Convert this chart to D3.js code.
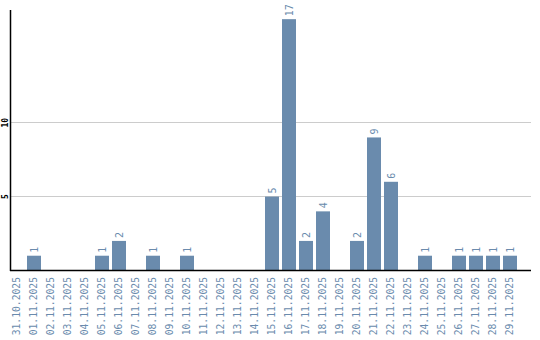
<!DOCTYPE html>
<html><head><meta charset="utf-8">
<script src="https://cdn.jsdelivr.net/npm/d3@7"></script>
<style>body{margin:0;background:#fff}</style>
</head><body>
<script>
const dates = ["31.10.2025","01.11.2025","02.11.2025","03.11.2025","04.11.2025","05.11.2025","06.11.2025","07.11.2025","08.11.2025","09.11.2025","10.11.2025","11.11.2025","12.11.2025","13.11.2025","14.11.2025","15.11.2025","16.11.2025","17.11.2025","18.11.2025","19.11.2025","20.11.2025","21.11.2025","22.11.2025","23.11.2025","24.11.2025","25.11.2025","26.11.2025","27.11.2025","28.11.2025","29.11.2025"];
const counts = [0,1,0,0,0,1,2,0,1,0,1,0,0,0,0,5,17,2,4,0,2,9,6,0,1,0,1,1,1,1];
const yTicks = [5,10];

(function(){
const W=540,H=340;
const svg=d3.select("body").append("svg").attr("width",W).attr("height",H);
const mLeft=10.5, mRight=531, base=270.5, mTop=10;
const x=d3.scaleBand().domain(dates).range([10,517]).paddingInner(3/17).paddingOuter(0);
const y=d3.scaleLinear().domain([0,17.62]).range([base,mTop]);
const col="#6a8bad";
const rows=dates.map((d,i)=>({d,v:counts[i]})).filter(o=>o.v>0);

svg.append("g").selectAll("line").data(yTicks).join("line")
  .attr("x1",mLeft).attr("x2",mRight).attr("y1",d=>Math.round(y(d))-0.5).attr("y2",d=>Math.round(y(d))-0.5)
  .attr("stroke","#cccccc").attr("stroke-width",1);
svg.append("g").selectAll("text").data(yTicks).join("text")
  .attr("transform",d=>`translate(5.5,${y(d)}) rotate(-90)`)
  .attr("text-anchor","middle").attr("dy","0.35em")
  .style("font-family","'DejaVu Sans Mono',monospace").style("font-size","8px").style("font-weight","bold")
  .attr("fill","#000").text(d=>d);

svg.append("g").selectAll("rect").data(rows).join("rect")
  .attr("x",o=>x(o.d)).attr("width",x.bandwidth()).attr("y",o=>y(o.v)).attr("height",o=>y(0)-y(o.v))
  .attr("fill",col);
svg.append("g").selectAll("text").data(rows).join("text")
  .attr("transform",o=>`translate(${x(o.d)+x.bandwidth()/2},${y(o.v)-3}) rotate(-90)`)
  .attr("text-anchor","start").attr("dy","0.35em")
  .style("font-family","'DejaVu Sans Mono',monospace").style("font-size","10px")
  .attr("fill",col).text(o=>o.v);

svg.append("line").attr("x1",mLeft).attr("x2",mLeft).attr("y1",mTop).attr("y2",base+0.5).attr("stroke","#000").attr("stroke-width",1.5);
svg.append("line").attr("x1",mLeft-0.5).attr("x2",mRight).attr("y1",base).attr("y2",base).attr("stroke","#000").attr("stroke-width",1.5);

svg.append("g").selectAll("text").data(dates).join("text")
  .attr("transform",d=>`translate(${x(d)+x.bandwidth()/2},277) rotate(-90)`)
  .attr("text-anchor","end").attr("dy","0.35em")
  .style("font-family","'DejaVu Sans Mono',monospace").style("font-size","9.7px")
  .attr("fill",col).text(d=>d);
})();
</script>
</body></html>
